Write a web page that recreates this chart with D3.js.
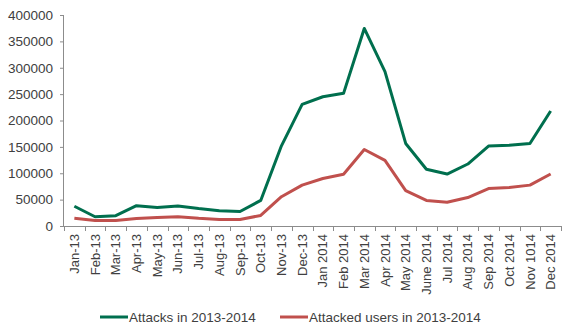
<!DOCTYPE html>
<html><head><meta charset="utf-8">
<script src="https://cdn.jsdelivr.net/npm/d3@7"></script>
<style>body{margin:0;background:#fff}svg{display:block}</style>
</head><body>
<svg id="c" width="576" height="336"></svg>
<script>
const categories = ["Jan-13","Feb-13","Mar-13","Apr-13","May-13","Jun-13","Jul-13","Aug-13","Sep-13","Oct-13","Nov-13","Dec-13","Jan 2014","Feb 2014","Mar 2014","Apr 2014","May 2014","June 2014","Jul 2014","Aug 2014","Sep 2014","Oct 2014","Nov 1014","Dec 2014"];
const attacks = [37500,17500,19500,38500,35000,38000,33000,29000,27500,48500,152000,230500,245000,251500,374500,292500,156500,107500,98500,117500,151500,153000,156500,218000];
const attackedUsers = [14500,10500,10500,14000,16000,17500,14500,12500,12500,20000,55500,77500,90000,98000,145000,124500,67000,48500,45000,54000,71000,73000,77500,98500];
const yTicks = [0,50000,100000,150000,200000,250000,300000,350000,400000];
const seriesNames = ["Attacks in 2013-2014","Attacked users in 2013-2014"];
const colors = ["#006F4E","#C0504D"];

(function () {
const svg = d3.select("#c");
const mL = 64, mR = 561, mT = 15, mB = 226;
const x = d3.scaleBand().domain(categories).range([mL, mR]);
const y = d3.scaleLinear().domain([0, 400000]).range([mB, mT]);
const font = "Liberation Sans, Arial, sans-serif";
const txt = "#404040";

const ya = svg.append("g").attr("transform", `translate(${mL},0)`)
  .call(d3.axisLeft(y).tickValues(yTicks).tickSize(4).tickPadding(7).tickFormat(d3.format("d")));
ya.select(".domain").attr("stroke", "#8c8c8c").attr("d", `M-0.5,${mT}V${mB}`);
ya.selectAll(".tick line").attr("stroke", "#8c8c8c");
ya.selectAll("text").attr("fill", txt).style("font", `13.5px ${font}`);

const xa = svg.append("g").attr("transform", `translate(0,${mB})`)
  .call(d3.axisBottom(x).tickSize(0));
xa.select(".domain").attr("stroke", "#8c8c8c").attr("d", `M${mL},0.5H${mR}`);
xa.selectAll(".tick line").remove();
const bounds = categories.map(c => x(c)).concat([mR]);
svg.append("g").selectAll("line").data(bounds).join("line")
  .attr("x1", d => Math.round(d) + 0.5).attr("x2", d => Math.round(d) + 0.5)
  .attr("y1", mB).attr("y2", mB + 5).attr("stroke", "#8c8c8c");
xa.selectAll("text")
  .attr("fill", txt).style("font", `13px ${font}`)
  .attr("text-anchor", "end")
  .attr("transform", "rotate(-90)")
  .attr("x", -8).attr("y", 0).attr("dy", "0.35em");

const line = d3.line().x((d, i) => x(categories[i]) + x.bandwidth() / 2).y(d => y(d));
[attacks, attackedUsers].forEach((s, k) => {
  svg.append("path").datum(s).attr("d", line).attr("fill", "none")
    .attr("stroke", colors[k]).attr("stroke-width", 3).attr("stroke-linejoin", "round");
});

const lg = [{x: 100, name: seriesNames[0], c: colors[0]}, {x: 280, name: seriesNames[1], c: colors[1]}];
lg.forEach(l => {
  svg.append("line").attr("x1", l.x).attr("x2", l.x + 28).attr("y1", 317).attr("y2", 317)
    .attr("stroke", l.c).attr("stroke-width", 3);
  svg.append("text").attr("x", l.x + 29).attr("y", 317).attr("dy", "0.35em")
    .attr("fill", txt).style("font", `13.5px ${font}`).text(l.name);
});
})();
</script>
</body></html>
